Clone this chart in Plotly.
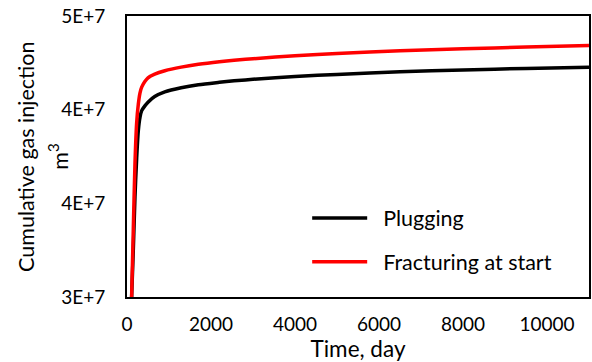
import plotly.graph_objects as go

time_plug = [110, 150, 190, 230, 270, 310, 350, 425, 500, 660, 900, 1290, 1700, 2200, 2550, 3000, 4000, 5000, 6500, 8000, 9500, 11000]
plugging = [3.00e7, 3.25e7, 3.535e7, 3.74e7, 3.89e7, 3.96e7, 3.995e7, 4.02e7, 4.04e7, 4.07e7, 4.095e7, 4.117e7, 4.133e7, 4.146e7, 4.154e7, 4.162e7, 4.177e7, 4.188e7, 4.202e7, 4.212e7, 4.220e7, 4.227e7]
time_frac = [110, 150, 190, 230, 270, 310, 350, 425, 500, 660, 900, 1290, 1700, 2200, 2550, 3000, 4000, 5000, 6500, 8000, 9500, 11000]
fracturing = [3.00e7, 3.36e7, 3.715e7, 3.93e7, 4.03e7, 4.09e7, 4.12e7, 4.15e7, 4.17e7, 4.19e7, 4.208e7, 4.227e7, 4.242e7, 4.256e7, 4.264e7, 4.272e7, 4.288e7, 4.300e7, 4.314e7, 4.325e7, 4.334e7, 4.342e7]

x_ticks = [0, 2000, 4000, 6000, 8000, 10000]
x_tick_text = ["0", "2000", "4000", "6000", "8000", "10000"]
y_ticks = [3.0e7, 3.5e7, 4.0e7, 4.5e7]
y_tick_text = ["3E+7", "4E+7", "4E+7", "5E+7"]

FONT = "Lato"
PLOT_W = 592 - 127 - 1

fig = go.Figure()
fig.add_trace(go.Scatter(x=time_plug, y=plugging, mode="lines", name="\u00a0\u00a0Plugging",
                         line=dict(color="black", width=3.5, shape="spline", smoothing=0.8),
                         legend="legend", showlegend=True))
fig.add_trace(go.Scatter(x=time_frac, y=fracturing, mode="lines", name="\u00a0\u00a0Fracturing at start",
                         line=dict(color="#ff0000", width=3.5, shape="spline", smoothing=0.8),
                         legend="legend2", showlegend=True))

leg = dict(xanchor="left", yanchor="middle", bgcolor="rgba(0,0,0,0)",
           font=dict(size=21.5), itemwidth=55)

fig.add_annotation(text="Cumulative gas injection", textangle=-90, showarrow=False,
                   xref="paper", yref="paper", x=(25 - 127) / PLOT_W, y=0.5,
                   xanchor="center", yanchor="middle", font=dict(size=21.5))
fig.add_annotation(text="m<sup>3</sup>", textangle=-90, showarrow=False,
                   xref="paper", yref="paper", x=(58 - 127) / PLOT_W, y=0.5,
                   xanchor="center", yanchor="middle", font=dict(size=21.5))

fig.update_layout(
    width=592, height=362,
    margin=dict(l=127, r=1, t=16, b=65),
    showlegend=True,
    paper_bgcolor="white", plot_bgcolor="white",
    font=dict(family=FONT, size=18, color="black"),
    legend=dict(x=0.39, y=0.281, **leg),
    legend2=dict(x=0.39, y=0.125, **leg),
    xaxis=dict(range=[0, 11000], tickvals=x_ticks, ticktext=x_tick_text,
               showgrid=False, zeroline=False,
               showline=True, linecolor="black", linewidth=2, mirror=True,
               ticks="", tickfont=dict(size=19), ticklabelstandoff=9,
               title=dict(text="Time, day", font=dict(size=22.5), standoff=0)),
    yaxis=dict(range=[3.0e7, 4.5e7], tickvals=y_ticks, ticktext=y_tick_text,
               showgrid=False, zeroline=False,
               showline=True, linecolor="black", linewidth=2, mirror=True,
               ticks="", tickfont=dict(size=19), ticklabelstandoff=16),
)

fig.write_html("out.html")
